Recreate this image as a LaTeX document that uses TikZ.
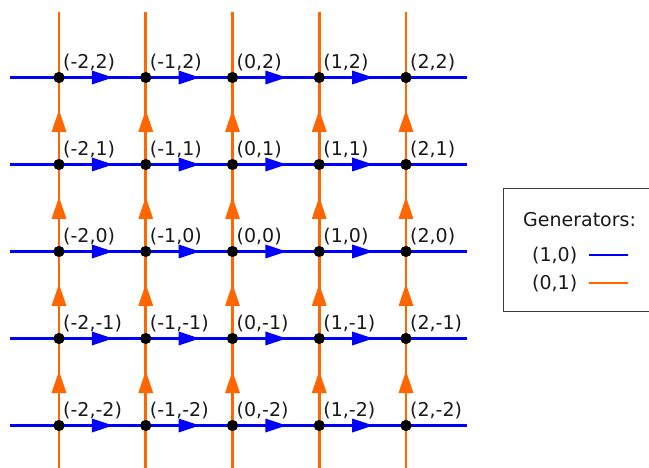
\documentclass[tikz,border=0pt]{standalone}
\usepackage{fontspec}
\setmainfont{DejaVu Sans}
\usetikzlibrary{decorations.markings}
\definecolor{gblue}{RGB}{0,0,255}
\definecolor{gorange}{RGB}{255,102,0}
\definecolor{boxgray}{RGB}{60,60,60}
\begin{document}
\begin{tikzpicture}[x=1pt,y=-1pt,
  dot/.style={circle,fill=black,inner sep=0pt,minimum size=11pt},
  hline/.style={draw=gblue,line width=2.6pt},
  vline/.style={draw=gorange,line width=2.9pt},
  harrow/.style={hline,postaction={decorate},decoration={markings,
     mark=at position 0.5 with {\fill[gblue] (10.5pt,0pt) -- (-10.5pt,7pt) -- (-10.5pt,-7pt) -- cycle;}}},
  varrow/.style={vline,postaction={decorate},decoration={markings,
     mark=at position 0.5 with {\fill[gorange] (11pt,0pt) -- (-11pt,7.5pt) -- (-11pt,-7.5pt) -- cycle;}}},
  lab/.style={anchor=base west,inner sep=0pt,text=black!90,font=\fontsize{19}{22}\selectfont},
  legbox/.style={draw=boxgray,line width=1pt,inner sep=0pt}]
\useasboundingbox (0,0) rectangle (649,468);
% grid nodes
\foreach \a in {0,...,4}{
  \foreach \b in {0,...,4}{
    \pgfmathsetmacro{\xx}{59+86.75*\a}
    \pgfmathsetmacro{\yy}{425.5-87*\b}
    \node[dot] (v\a\b) at (\xx,\yy) {};
  }
}
% free ends
\foreach \b in {0,...,4}{
  \pgfmathsetmacro{\yy}{425.5-87*\b}
  \coordinate (hl\b) at (10,\yy);
  \coordinate (hr\b) at (467,\yy);
}
\foreach \a in {0,...,4}{
  \pgfmathsetmacro{\xx}{59+86.75*\a}
  \coordinate (vt\a) at (\xx,12);
  \coordinate (vb\a) at (\xx,468);
}
% horizontal (blue)
\foreach \b in {0,...,4}{
  \draw[hline] (hl\b) -- (v0\b.center);
  \draw[hline] (v4\b.center) -- (hr\b);
  \foreach \a [evaluate=\a as \n using int(\a+1)] in {0,...,3}{
    \draw[harrow] (v\a\b.center) -- (v\n\b.center);
  }
}
% vertical (orange)
\foreach \a in {0,...,4}{
  \draw[vline] (vb\a) -- (v\a0.center);
  \draw[vline] (v\a4.center) -- (vt\a);
  \foreach \b [evaluate=\b as \n using int(\b+1)] in {0,...,3}{
    \draw[varrow] (v\a\b.center) -- (v\a\n.center);
  }
}
% dots on top and labels
\foreach \a [evaluate=\a as \i using int(\a-2)] in {0,...,4}{
  \foreach \b [evaluate=\b as \j using int(\b-2)] in {0,...,4}{
    \fill[black] (v\a\b.center) circle[radius=5.5pt];
    \pgfmathsetmacro{\xx}{59+86.75*\a+4}
    \pgfmathsetmacro{\yy}{425.5-87*\b-9}
    \node[lab] (l\a\b) at (\xx,\yy) {(\i,\j)};
  }
}
% legend
\node[legbox,anchor=north west,minimum width=160pt,minimum height=123pt] (legend) at (503,188) {};
\node[lab] (gen) at (523,227) {Generators:};
\node[lab] (g10) at (532,262) {(1,0)};
\node[lab] (g01) at (532,290) {(0,1)};
\coordinate (b1) at (589,255);
\coordinate (b2) at (628,255);
\coordinate (o1) at (589,283);
\coordinate (o2) at (628,283);
\draw[hline] (b1) -- (b2);
\draw[vline] (o1) -- (o2);
\end{tikzpicture}
\end{document}
